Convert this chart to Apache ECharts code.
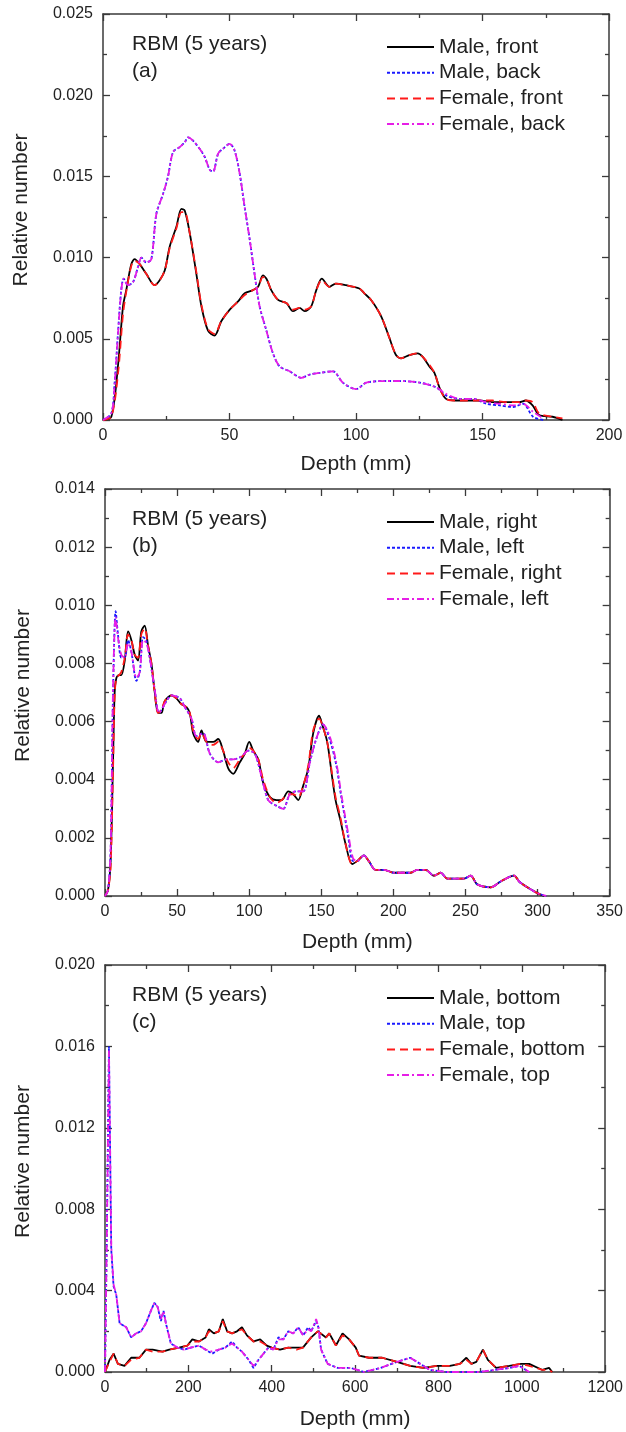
<!DOCTYPE html>
<html>
<head>
<meta charset="utf-8">
<script src="https://cdn.jsdelivr.net/npm/echarts@6/dist/echarts.min.js"></script>
<style>
html,body{margin:0;padding:0;background:#fff;}
#chart{width:626px;height:1432px;}
</style>
</head>
<body>
<div id="chart"></div>
<script>
// ---------- Panel (a): front / back ----------
var aXTicks = [0, 50, 100, 150, 200];
var aYTicks = [0, 0.005, 0.010, 0.015, 0.020, 0.025];
var aNames = ['Male, front', 'Male, back', 'Female, front', 'Female, back'];
var aFrontDepth = [0, 3.3, 5.9, 7.9, 9.2, 11.2, 12.5, 14.5, 17.1, 20.4, 22.4, 24.4, 26.4, 29, 31, 32.3, 34.3, 36.9, 38.9, 41.5, 44.1, 46.8, 50.1, 53.4, 56, 59.3, 61.3, 63.2, 64.6, 66.5, 69.2, 72.5, 75.1, 77.7, 79.7, 82.3, 84.3, 86.5, 89.5, 92, 96, 101.3, 103.3, 105.9, 109.9, 113.1, 115.8, 117.8, 121.1, 124.4, 126.3, 129, 131, 133, 135.6, 139.5, 143.5, 148.8, 154, 159.3, 164.5, 167.1, 169.8, 172.4, 177.7, 181.6];
var aMaleFront = [0, 0.0002, 0.0033, 0.0070, 0.0080, 0.0096, 0.0099, 0.0096, 0.0090, 0.0083, 0.0086, 0.0092, 0.0107, 0.0119, 0.0130, 0.0129, 0.0115, 0.0090, 0.0070, 0.0055, 0.0052, 0.0061, 0.0068, 0.0073, 0.0078, 0.0080, 0.0082, 0.0089, 0.0087, 0.0080, 0.0074, 0.0072, 0.0067, 0.0069, 0.0067, 0.0070, 0.0080, 0.0087, 0.0082, 0.0084, 0.0083, 0.0081, 0.0078, 0.0074, 0.0064, 0.0051, 0.0040, 0.0038, 0.0040, 0.0041, 0.0039, 0.0033, 0.0029, 0.0020, 0.0013, 0.0012, 0.0012, 0.0012, 0.0011, 0.0011, 0.0011, 0.0012, 0.0009, 0.0003, 0.0002, 0];
var aFemaleFront = [0, 0.0002, 0.0028, 0.0065, 0.0079, 0.0095, 0.0098, 0.0096, 0.0090, 0.0083, 0.0086, 0.0092, 0.0106, 0.0118, 0.0128, 0.0128, 0.0115, 0.0091, 0.0071, 0.0056, 0.0053, 0.0061, 0.0068, 0.0073, 0.0077, 0.0080, 0.0082, 0.0088, 0.0087, 0.0080, 0.0074, 0.0072, 0.0068, 0.0069, 0.0068, 0.0070, 0.0080, 0.0086, 0.0082, 0.0084, 0.0083, 0.0081, 0.0078, 0.0074, 0.0064, 0.0051, 0.0040, 0.0038, 0.0040, 0.0041, 0.0039, 0.0034, 0.0029, 0.0020, 0.0013, 0.0012, 0.0012, 0.0012, 0.0012, 0.0011, 0.0011, 0.0012, 0.0011, 0.0004, 0.0002, 0.0001];
var aBackDepth = [0, 3.3, 4.6, 5.9, 7.2, 8.2, 9.9, 11.9, 13.8, 15.2, 17.1, 19.1, 21.1, 23.7, 25.7, 27.7, 30.3, 32.3, 33.6, 35.6, 38.2, 40.2, 42.2, 43.5, 45.5, 47.4, 50.1, 52.0, 54.0, 56.0, 58.0, 59.9, 61.9, 64.6, 67.2, 69.8, 73.8, 78.4, 81.7, 85.6, 90.9, 94.8, 100.1, 104.1, 112, 117.3, 125.2, 131.8, 135.7, 141, 146.3, 151.5, 156.8, 162.1, 166, 170, 174];
var aMaleBack = [0, 0.0004, 0.0023, 0.0053, 0.0080, 0.0087, 0.0083, 0.0085, 0.0094, 0.0100, 0.0097, 0.0099, 0.0127, 0.0139, 0.0150, 0.0165, 0.0168, 0.0171, 0.0174, 0.0172, 0.0167, 0.0162, 0.0154, 0.0153, 0.0164, 0.0167, 0.0170, 0.0166, 0.0152, 0.0131, 0.0111, 0.0090, 0.0070, 0.0055, 0.0041, 0.0033, 0.0030, 0.0026, 0.0028, 0.0029, 0.0030, 0.0023, 0.0019, 0.0023, 0.0024, 0.0024, 0.0023, 0.0020, 0.0015, 0.0013, 0.0013, 0.0010, 0.0009, 0.0008, 0.0010, 0.0002, 0];
var aFemaleBack = [0, 0.0004, 0.0022, 0.0052, 0.0079, 0.0087, 0.0083, 0.0085, 0.0094, 0.0100, 0.0097, 0.0099, 0.0127, 0.0139, 0.0150, 0.0165, 0.0168, 0.0171, 0.0174, 0.0172, 0.0167, 0.0162, 0.0154, 0.0153, 0.0164, 0.0167, 0.0170, 0.0166, 0.0152, 0.0131, 0.0111, 0.0090, 0.0070, 0.0055, 0.0041, 0.0033, 0.0030, 0.0026, 0.0028, 0.0029, 0.0030, 0.0023, 0.0019, 0.0023, 0.0024, 0.0024, 0.0023, 0.0020, 0.0016, 0.0013, 0.0013, 0.0011, 0.0010, 0.0009, 0.0010, 0.0005, 0.0001];

// ---------- Panel (b): right / left ----------
var bXTicks = [0, 50, 100, 150, 200, 250, 300, 350];
var bYTicks = [0, 0.002, 0.004, 0.006, 0.008, 0.010, 0.012, 0.014];
var bNames = ['Male, right', 'Male, left', 'Female, right', 'Female, left'];
var bRightDepth = [0, 2.1, 3.9, 5.6, 6.7, 7.9, 9.7, 11.3, 13.7, 16, 18.3, 20.6, 22.9, 25.2, 27.5, 29.9, 32.2, 34.5, 36.8, 39.1, 41.4, 46.1, 49.5, 53, 56.5, 58.8, 61.1, 64.6, 66.9, 70.4, 75, 78.5, 81.9, 85.4, 88.9, 93.5, 97, 100, 102.8, 106.3, 109.7, 114.4, 119, 122.5, 127.1, 130.6, 134, 137.5, 141, 144.4, 148.5, 150.6, 154.1, 157.5, 159.9, 163.3, 166.8, 171.4, 174.9, 179.5, 183, 187.6, 193.4, 200.4, 205, 211.9, 216.6, 222.4, 228.1, 232.8, 237.4, 244.3, 249, 253.6, 258.2, 267.5, 274.4, 283.7, 287.2, 292.9, 299.9, 304.5];
var bMaleRight = [0, 0.0002, 0.0012, 0.0047, 0.0070, 0.0075, 0.0076, 0.0076, 0.0081, 0.0091, 0.0088, 0.0083, 0.0081, 0.0091, 0.0093, 0.0086, 0.0080, 0.0070, 0.0063, 0.0063, 0.0067, 0.0069, 0.0068, 0.0066, 0.0065, 0.0063, 0.0056, 0.0053, 0.0057, 0.0053, 0.0053, 0.0054, 0.0050, 0.0044, 0.0042, 0.0046, 0.0049, 0.0053, 0.0050, 0.0047, 0.0039, 0.0034, 0.0033, 0.0033, 0.0036, 0.0035, 0.0033, 0.0038, 0.0044, 0.0056, 0.0062, 0.0059, 0.0053, 0.0041, 0.0033, 0.0026, 0.0018, 0.0011, 0.0012, 0.0014, 0.0012, 0.0009, 0.0009, 0.0008, 0.0008, 0.0008, 0.0009, 0.0009, 0.0007, 0.0008, 0.0006, 0.0006, 0.0006, 0.0007, 0.0004, 0.0003, 0.0005, 0.0007, 0.0005, 0.0003, 0.0001, 0];
var bFemaleRight = [0, 0.0002, 0.0010, 0.0044, 0.0069, 0.0075, 0.0076, 0.0077, 0.0082, 0.0090, 0.0088, 0.0083, 0.0082, 0.0090, 0.0092, 0.0086, 0.0080, 0.0070, 0.0063, 0.0064, 0.0067, 0.0069, 0.0068, 0.0066, 0.0065, 0.0063, 0.0057, 0.0054, 0.0056, 0.0053, 0.0052, 0.0053, 0.0050, 0.0046, 0.0044, 0.0047, 0.0049, 0.0051, 0.0050, 0.0047, 0.0040, 0.0034, 0.0032, 0.0033, 0.0035, 0.0035, 0.0034, 0.0038, 0.0045, 0.0057, 0.0061, 0.0059, 0.0053, 0.0042, 0.0034, 0.0027, 0.0018, 0.0011, 0.0012, 0.0014, 0.0012, 0.0009, 0.0009, 0.0008, 0.0008, 0.0008, 0.0009, 0.0009, 0.0007, 0.0008, 0.0006, 0.0006, 0.0006, 0.0007, 0.0004, 0.0003, 0.0005, 0.0007, 0.0005, 0.0003, 0.0001, 0];
var bLeftDepth = [0, 2.1, 3.9, 5.6, 7.4, 9.0, 11.3, 13.7, 16, 18.3, 21.8, 24.1, 26.4, 28.7, 31, 34.5, 37.5, 42.6, 46.1, 51.9, 55.3, 60, 63.4, 68.1, 72.7, 78.5, 84.3, 88.9, 94.7, 99.3, 103.9, 108.6, 113.2, 119, 123.6, 128.2, 132.9, 137.5, 142.1, 146.5, 151.2, 155.8, 160.4, 163.9, 168.5, 172, 174.9, 179.5, 183, 187.6, 193.4, 200.4, 205, 211.9, 216.6, 222.4, 228.1, 232.8, 237.4, 244.3, 249, 253.6, 258.2, 267.5, 274.4, 283.7, 287.2, 292.9, 299.9, 306];
var bMaleLeft = [0, 0.0002, 0.0015, 0.0070, 0.0098, 0.0090, 0.0082, 0.0082, 0.0088, 0.0084, 0.0074, 0.0077, 0.0089, 0.0088, 0.0082, 0.0071, 0.0063, 0.0067, 0.0069, 0.0068, 0.0065, 0.0061, 0.0055, 0.0056, 0.0049, 0.0046, 0.0047, 0.0047, 0.0048, 0.0050, 0.0049, 0.0041, 0.0033, 0.0031, 0.0030, 0.0035, 0.0036, 0.0036, 0.0046, 0.0054, 0.0059, 0.0054, 0.0045, 0.0034, 0.0021, 0.0012, 0.0012, 0.0014, 0.0012, 0.0009, 0.0009, 0.0008, 0.0008, 0.0008, 0.0009, 0.0009, 0.0007, 0.0008, 0.0006, 0.0006, 0.0006, 0.0007, 0.0004, 0.0003, 0.0005, 0.0007, 0.0005, 0.0003, 0.0001, 0];
var bFemaleLeft = [0, 0.0002, 0.0016, 0.0072, 0.0096, 0.0089, 0.0083, 0.0082, 0.0087, 0.0084, 0.0075, 0.0077, 0.0088, 0.0087, 0.0082, 0.0071, 0.0063, 0.0067, 0.0069, 0.0068, 0.0065, 0.0061, 0.0055, 0.0056, 0.0049, 0.0046, 0.0047, 0.0047, 0.0048, 0.0050, 0.0049, 0.0041, 0.0033, 0.0031, 0.0030, 0.0035, 0.0036, 0.0036, 0.0046, 0.0054, 0.0059, 0.0055, 0.0046, 0.0035, 0.0022, 0.0013, 0.0012, 0.0014, 0.0012, 0.0009, 0.0009, 0.0008, 0.0008, 0.0008, 0.0009, 0.0009, 0.0007, 0.0008, 0.0006, 0.0006, 0.0006, 0.0007, 0.0004, 0.0003, 0.0005, 0.0007, 0.0005, 0.0003, 0.0001, 0];

// ---------- Panel (c): bottom / top ----------
var cXTicks = [0, 200, 400, 600, 800, 1000, 1200];
var cYTicks = [0, 0.004, 0.008, 0.012, 0.016, 0.020];
var cNames = ['Male, bottom', 'Male, top', 'Female, bottom', 'Female, top'];
var cBottomDepth = [0, 11, 20.6, 31, 46.8, 62.7, 82.5, 98.4, 114.3, 138.1, 154, 177.8, 197.6, 209.5, 225.4, 241.3, 249.2, 261.1, 273, 282.6, 292.9, 304.8, 316.7, 328.6, 340.5, 356.4, 372.3, 388.1, 400, 419.9, 439.7, 459.6, 474.8, 494.6, 510.4, 530.2, 538.1, 554, 569.8, 585.7, 601.5, 609.5, 633.3, 665, 700.6, 732.3, 764, 795.7, 827.4, 851.2, 867, 878.9, 890.8, 906.6, 918.5, 938.3, 970, 997.8, 1017.7, 1049.4, 1065.2, 1073];
var cMaleBottom = [0, 0.0006, 0.0009, 0.0004, 0.0003, 0.0007, 0.0007, 0.0011, 0.0011, 0.0010, 0.0011, 0.0012, 0.0013, 0.0016, 0.0015, 0.0017, 0.0021, 0.0019, 0.0020, 0.0026, 0.0020, 0.0019, 0.0020, 0.0022, 0.0018, 0.0015, 0.0016, 0.0013, 0.0012, 0.0011, 0.0012, 0.0012, 0.0012, 0.0017, 0.0020, 0.0017, 0.0019, 0.0013, 0.0019, 0.0016, 0.0012, 0.0008, 0.0007, 0.0007, 0.0005, 0.0003, 0.0002, 0.0003, 0.0003, 0.0004, 0.0007, 0.0004, 0.0005, 0.0011, 0.0006, 0.0002, 0.0003, 0.0004, 0.0004, 0.0001, 0.0002, 0];
var cFemaleBottom = [0, 0.0005, 0.0009, 0.0004, 0.0003, 0.0006, 0.0007, 0.0011, 0.0010, 0.0010, 0.0011, 0.0012, 0.0013, 0.0015, 0.0015, 0.0017, 0.0020, 0.0019, 0.0020, 0.0025, 0.0020, 0.0019, 0.0020, 0.0021, 0.0018, 0.0015, 0.0015, 0.0013, 0.0012, 0.0011, 0.0012, 0.0011, 0.0012, 0.0017, 0.0020, 0.0017, 0.0019, 0.0013, 0.0018, 0.0016, 0.0012, 0.0008, 0.0007, 0.0007, 0.0005, 0.0003, 0.0002, 0.0003, 0.0003, 0.0004, 0.0006, 0.0004, 0.0005, 0.0011, 0.0006, 0.0002, 0.0003, 0.0004, 0.0003, 0.0001, 0.0001, 0];
var cTopDepth = [0, 4, 9.5, 15, 20.6, 27, 35, 50.8, 62.7, 74.6, 86.5, 98.4, 110, 118.3, 126.2, 134.1, 140.5, 146, 158, 173.8, 189.7, 205.6, 225.4, 241.3, 257.2, 273, 288.9, 304.8, 316.7, 328.6, 344.5, 356.4, 368.3, 380.2, 392.1, 404, 415.9, 427.8, 439.7, 451.6, 463.5, 475.4, 487.3, 494.6, 506.5, 512, 518.4, 534.2, 558, 589.7, 621.4, 661, 700.6, 732.3, 756.1, 779.9, 819.5, 898.8, 970.2, 994, 1017.7];
var cMaleTop = [0, 0.0060, 0.0160, 0.0060, 0.0042, 0.0038, 0.0024, 0.0022, 0.0017, 0.0019, 0.0020, 0.0024, 0.0030, 0.0034, 0.0032, 0.0025, 0.0030, 0.0024, 0.0014, 0.0012, 0.0011, 0.0012, 0.0013, 0.0011, 0.0009, 0.0011, 0.0012, 0.0015, 0.0012, 0.0010, 0.0006, 0.0002, 0.0006, 0.0009, 0.0012, 0.0011, 0.0017, 0.0016, 0.0020, 0.0019, 0.0022, 0.0018, 0.0022, 0.0020, 0.0025, 0.0022, 0.0011, 0.0004, 0.0002, 0.0002, 0, 0.0002, 0.0005, 0.0007, 0.0004, 0.0001, 0, 0, 0.0002, 0.0003, 0];
var cFemaleTop = [0, 0.0058, 0.0158, 0.0062, 0.0043, 0.0038, 0.0024, 0.0022, 0.0017, 0.0019, 0.0020, 0.0024, 0.0030, 0.0034, 0.0032, 0.0026, 0.0030, 0.0024, 0.0014, 0.0012, 0.0011, 0.0012, 0.0013, 0.0011, 0.0010, 0.0011, 0.0012, 0.0014, 0.0012, 0.0010, 0.0006, 0.0003, 0.0006, 0.0009, 0.0012, 0.0011, 0.0016, 0.0016, 0.0020, 0.0019, 0.0022, 0.0018, 0.0021, 0.0020, 0.0026, 0.0022, 0.0011, 0.0004, 0.0002, 0.0002, 0, 0.0002, 0.0005, 0.0007, 0.0004, 0.0001, 0, 0, 0.0002, 0.0003, 0];

// ---------- build ----------
var FONT = '"Liberation Sans", Arial, Helvetica, sans-serif';
var TXT = '#222';
var AX = '#3a3a3a';
var colors = ['#000000', '#1a1aff', '#ff1a1a', '#e61ee6'];
var dashes = ['solid', [3, 2], [8, 5], [7, 3, 2, 3]];

var panels = [
  {x: aXTicks, y: aYTicks, names: aNames, tag: '(a)', grid: {left: 103, top: 14, width: 506, height: 406}, nameGap: 34, smooth: 0.3,
   series: [[aFrontDepth, aMaleFront], [aBackDepth, aMaleBack], [aFrontDepth, aFemaleFront], [aBackDepth, aFemaleBack]]},
  {x: bXTicks, y: bYTicks, names: bNames, tag: '(b)', grid: {left: 105, top: 489, width: 505, height: 407}, nameGap: 36, smooth: 0.3,
   series: [[bRightDepth, bMaleRight], [bLeftDepth, bMaleLeft], [bRightDepth, bFemaleRight], [bLeftDepth, bFemaleLeft]]},
  {x: cXTicks, y: cYTicks, names: cNames, tag: '(c)', grid: {left: 105, top: 965, width: 505, height: 407}, nameGap: 37, smooth: false,
   series: [[cBottomDepth, cMaleBottom], [cTopDepth, cMaleTop], [cBottomDepth, cFemaleBottom], [cTopDepth, cFemaleTop]]}
];

function zip(xs, ys) { var out = []; for (var i = 0; i < xs.length; i++) out.push([xs[i], ys[i]]); return out; }

var option = {
  animation: false,
  backgroundColor: '#fff',
  grid: [], xAxis: [], yAxis: [], series: [], legend: [], graphic: []
};

panels.forEach(function (p, i) {
  option.grid.push(p.grid);
  var xmin = p.x[0], xmax = p.x[p.x.length - 1], xint = p.x[1] - p.x[0];
  var ymin = p.y[0], ymax = p.y[p.y.length - 1], yint = p.y[1] - p.y[0];
  var common = {
    axisLine: {show: true, onZero: false, lineStyle: {color: AX, width: 1.5}},
    axisTick: {show: true, inside: true, length: 7, lineStyle: {color: AX, width: 1.3}},
    minorTick: {show: true, splitNumber: 2, length: 4, lineStyle: {color: AX, width: 1.3}},
    splitLine: {show: false},
    minorSplitLine: {show: false}
  };
  option.xAxis.push(Object.assign({
    type: 'value', gridIndex: i, position: 'bottom', min: xmin, max: xmax, interval: xint,
    name: 'Depth (mm)', nameLocation: 'middle', nameGap: p.nameGap,
    nameTextStyle: {fontSize: 21, color: TXT, fontFamily: FONT},
    axisLabel: {show: true, margin: 8, fontSize: 16, color: TXT, fontFamily: FONT,
      formatter: function (v) { return String(v); }}
  }, common));
  option.xAxis.push(Object.assign({
    type: 'value', gridIndex: i, position: 'top', min: xmin, max: xmax, interval: xint,
    axisLabel: {show: false}
  }, common));
  option.yAxis.push(Object.assign({
    type: 'value', gridIndex: i, position: 'left', min: ymin, max: ymax, interval: yint,
    name: 'Relative number', nameLocation: 'middle', nameGap: 71,
    nameTextStyle: {fontSize: 21, color: TXT, fontFamily: FONT, padding: [0, 0, 0, 14]},
    axisLabel: {show: true, margin: 10, fontSize: 16, color: TXT, fontFamily: FONT,
      formatter: function (v) { return v.toFixed(3); }}
  }, common));
  option.yAxis.push(Object.assign({
    type: 'value', gridIndex: i, position: 'right', min: ymin, max: ymax, interval: yint,
    axisLabel: {show: false}
  }, common));

  p.series.forEach(function (s, k) {
    option.series.push({
      type: 'line', name: p.names[k], xAxisIndex: 2 * i, yAxisIndex: 2 * i,
      data: zip(s[0], s[1]), symbol: 'none', smooth: p.smooth,
      lineStyle: {color: colors[k], width: 1.8, type: dashes[k]},
      itemStyle: {color: colors[k]},
      z: 2 + k
    });
  });

  option.legend.push({
    data: p.names, orient: 'vertical', left: 381, top: p.grid.top + 17.5,
    itemWidth: 47, itemHeight: 14, itemGap: 4.7, selectedMode: false,
    itemStyle: {opacity: 0},
    textStyle: {fontSize: 21, color: TXT, fontFamily: FONT, lineHeight: 21}
  });

  option.graphic.push({
    type: 'text', x: 132, y: p.grid.top + 30.5,
    style: {text: 'RBM (5 years)', fontSize: 21, fontFamily: FONT, fill: TXT, verticalAlign: 'middle'}
  });
  option.graphic.push({
    type: 'text', x: 132, y: p.grid.top + 57,
    style: {text: p.tag, fontSize: 21, fontFamily: FONT, fill: TXT, verticalAlign: 'middle'}
  });
});

var chart = echarts.init(document.getElementById('chart'), null, {renderer: 'canvas', width: 626, height: 1432});
chart.setOption(option);
</script>
</body>
</html>
